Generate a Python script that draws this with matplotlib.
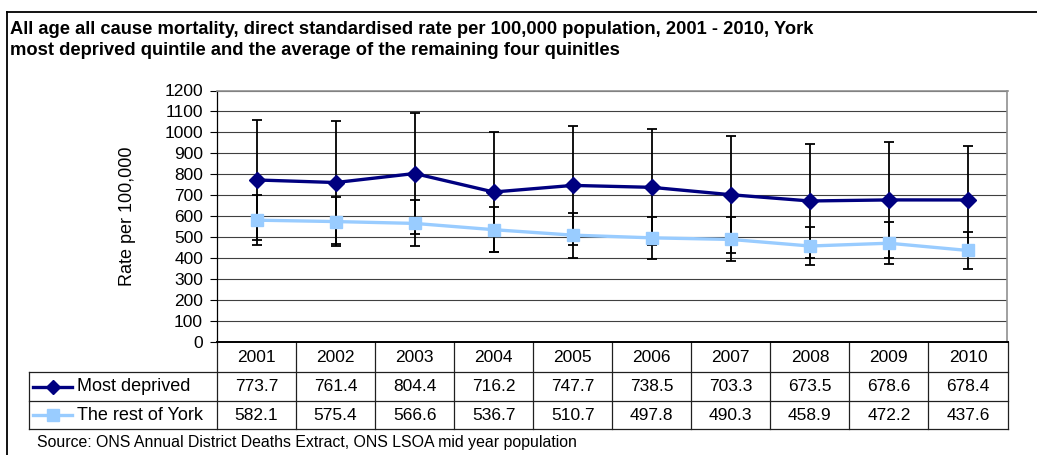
import numpy as np
import matplotlib
matplotlib.use("Agg")
import matplotlib.pyplot as plt
from matplotlib.lines import Line2D
from matplotlib.transforms import blended_transform_factory

plt.rcParams['font.family'] = ['Liberation Sans', 'DejaVu Sans']

years = ["2001", "2002", "2003", "2004", "2005", "2006", "2007", "2008", "2009", "2010"]
most_deprived = [773.7, 761.4, 804.4, 716.2, 747.7, 738.5, 703.3, 673.5, 678.6, 678.4]
most_deprived_err = [287, 291, 289, 287, 284, 277, 279, 270, 278, 256]
rest_of_york = [582.1, 575.4, 566.6, 536.7, 510.7, 497.8, 490.3, 458.9, 472.2, 437.6]
rest_of_york_err = [118, 115, 110, 108, 107, 101, 105, 92, 99, 89]
y_ticks = list(range(0, 1300, 100))

W, H = 1037, 455
NAVY = "#000080"
LIGHT = "#99CCFF"
FS = 12.5


def fx(px):
    return px / W


def fy(py):
    return 1 - py / H


fig = plt.figure(figsize=(W / 100, H / 100), dpi=100)
ax = fig.add_axes([fx(217), fy(342.3), fx(1007.5 - 217), (342.3 - 90.5) / H])

x = np.arange(len(years))

# error bars under the lines
ax.errorbar(x, most_deprived, yerr=most_deprived_err, fmt="none", ecolor="black",
            elinewidth=1.3, capsize=3.6, capthick=1.3, zorder=2)
ax.errorbar(x, rest_of_york, yerr=rest_of_york_err, fmt="none", ecolor="black",
            elinewidth=1.3, capsize=3.6, capthick=1.3, zorder=2)
ax.plot(x, rest_of_york, color=LIGHT, lw=2.4, marker="s", ms=9, zorder=3)
ax.plot(x, most_deprived, color=NAVY, lw=2.4, marker="D", ms=8.5, zorder=4)

ax.set_xlim(-0.5, len(years) - 0.5)
ax.set_ylim(0, 1200)
ax.set_yticks(y_ticks)
ax.tick_params(axis="y", labelsize=FS, length=5, width=0.8, direction="out", pad=5)
ax.set_xticks([])
ax.yaxis.grid(True, color="#404040", lw=0.8)
ax.set_axisbelow(True)
for side in ("top", "right"):
    ax.spines[side].set_color("#909090")
    ax.spines[side].set_linewidth(1.2)
ax.spines["left"].set_color("black")
ax.spines["left"].set_linewidth(0.9)
ax.spines["bottom"].set_color("black")
ax.spines["bottom"].set_linewidth(1.4)

fig.text(fx(128), fy(216), "Rate per 100,000", rotation=90, ha="center", va="center",
         fontsize=13)

# data table below the axis
trans = blended_transform_factory(ax.transData, fig.transFigure)
row_top, row1, row2, row3 = 342.3, 372.3, 401, 429.3
tcol = "#202020"
for b in np.arange(-0.5, len(years)):
    ax.plot([b, b], [fy(row_top), fy(row3)], transform=trans, color=tcol, lw=0.9,
            clip_on=False)
for py in (row1, row2, row3):
    fig.add_artist(Line2D([fx(29), fx(1007.5)], [fy(py), fy(py)], color=tcol, lw=0.9))
fig.add_artist(Line2D([fx(29), fx(29)], [fy(row1), fy(row3)], color=tcol, lw=0.9))

for i, yr in enumerate(years):
    ax.text(i, fy((row_top + row1) / 2), yr, transform=trans, ha="center", va="center",
            fontsize=FS)
    ax.text(i, fy((row1 + row2) / 2), f"{most_deprived[i]:.1f}", transform=trans,
            ha="center", va="center", fontsize=FS)
    ax.text(i, fy((row2 + row3) / 2), f"{rest_of_york[i]:.1f}", transform=trans,
            ha="center", va="center", fontsize=FS)

# legend keys inside the table
for yc, col, mk, ms, label in [((row1 + row2) / 2, NAVY, "D", 7.5, "Most deprived"),
                               ((row2 + row3) / 2, LIGHT, "s", 8, "The rest of York")]:
    fig.add_artist(Line2D([fx(33), fx(72)], [fy(yc), fy(yc)], color=col, lw=2.4))
    fig.add_artist(Line2D([fx(52.5)], [fy(yc)], color=col, marker=mk, ms=ms, lw=0))
    fig.text(fx(77), fy(yc), label, ha="left", va="center", fontsize=13)

fig.text(fx(10), fy(33.5), "All age all cause mortality, direct standardised rate per 100,000 "
         "population, 2001 - 2010, York", fontsize=13.2, fontweight="bold", va="baseline")
fig.text(fx(10), fy(55), "most deprived quintile and the average of the remaining four "
         "quinitles", fontsize=13.2, fontweight="bold", va="baseline")
fig.text(fx(37), fy(447), "Source: ONS Annual District Deaths Extract, ONS LSOA mid year "
         "population", fontsize=11.4, va="baseline")

# outer frame
fig.add_artist(Line2D([fx(7), 1.0], [fy(12), fy(12)], color="black", lw=1.3))
fig.add_artist(Line2D([fx(7), fx(7)], [fy(12), 0.0], color="black", lw=1.3))

fig.savefig("out.png", dpi=100)
